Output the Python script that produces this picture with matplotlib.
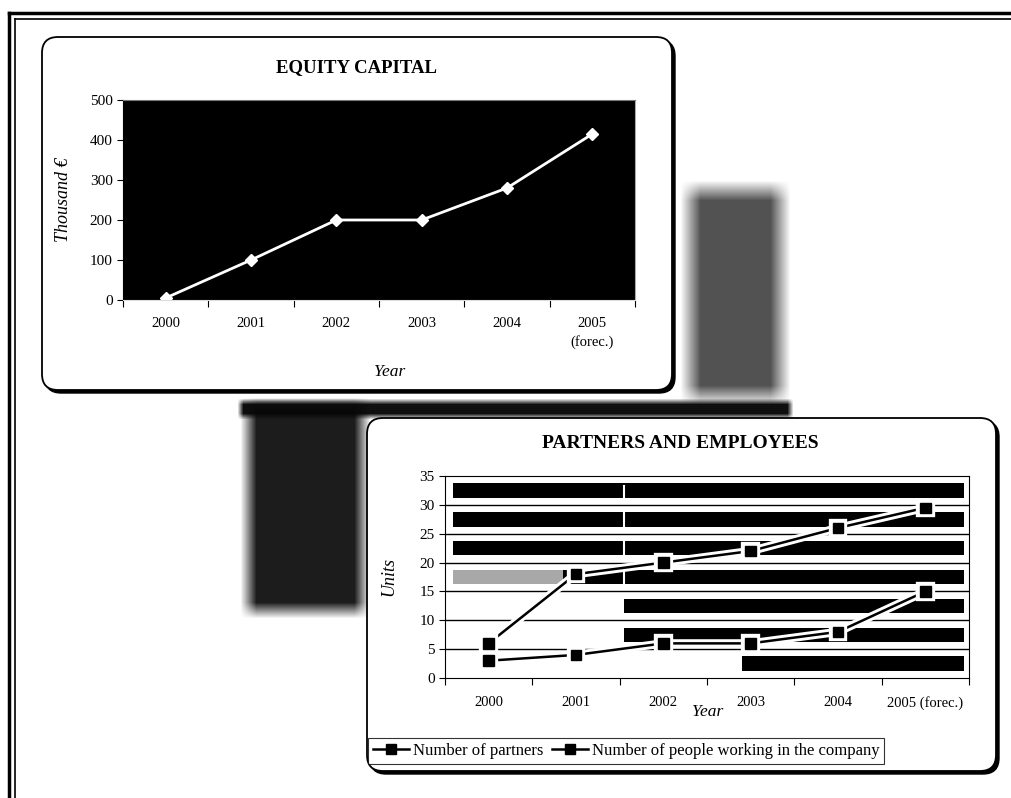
import numpy as np
import matplotlib
matplotlib.use("Agg")
import matplotlib.pyplot as plt
import matplotlib.patheffects as pe
from matplotlib.patches import FancyBboxPatch

plt.rcParams['font.family'] = ['Liberation Serif', 'DejaVu Serif']

# datos
anios = ['2000', '2001', '2002', '2003', '2004', '2005\n(forec.)']
anios_b = ['2000', '2001', '2002', '2003', '2004', '2005 (forec.)']
capital = [5, 100, 200, 200, 280, 415]          # miles de euros
socios = [3, 4, 6, 6, 8, 15]
personas = [6, 18, 20, 22, 26, 29.5]

W, H = 1012, 798
fig = plt.figure(figsize=(W / 100, H / 100), dpi=100)

# capa de fondo en coordenadas de pixel
bg = fig.add_axes([0, 0, 1, 1])
bg.axis('off')


def ejes(x0, y0, x1, y1):
    return fig.add_axes([x0 / W, 1 - y1 / H, (x1 - x0) / W, (y1 - y0) / H])


def mancha(x0, y0, x1, y1, suave, alfa=0.9):
    xs = np.arange(x0 - suave, x1 + suave)
    ys = np.arange(y0 - suave, y1 + suave)
    fx = np.clip(np.minimum(xs - (x0 - suave), (x1 + suave) - xs) / (2 * suave), 0, 1)
    fy = np.clip(np.minimum(ys - (y0 - suave), (y1 + suave) - ys) / (2 * suave), 0, 1)
    img = np.zeros((len(ys), len(xs), 4))
    img[..., :3] = 0.03
    img[..., 3] = np.outer(fy, fx) * alfa
    bg.imshow(img, extent=(x0 - suave, x1 + suave, y1 + suave, y0 - suave),
              interpolation='bilinear', aspect='auto', zorder=1)


def panel(x0, y0, x1, y1):
    bg.add_patch(FancyBboxPatch((x0 + 3, y0 + 3), x1 - x0, y1 - y0,
                                boxstyle='round,pad=0,rounding_size=16',
                                fc='black', ec='black', lw=1, zorder=2))
    bg.add_patch(FancyBboxPatch((x0, y0), x1 - x0, y1 - y0,
                                boxstyle='round,pad=0,rounding_size=16',
                                fc='white', ec='black', lw=1.3, zorder=3))


# manchas de la fotocopia
mancha(248, 405, 362, 610, 8, 0.92)
mancha(240, 401, 790, 416, 3, 0.97)
mancha(690, 190, 780, 395, 10, 0.7)

# marco exterior
bg.plot([9, W], [13, 13], color='black', lw=2.5, zorder=4)
bg.plot([15, W], [19, 19], color='black', lw=1.2, zorder=4)
bg.plot([9, 9], [13, H], color='black', lw=2.5, zorder=4)
bg.plot([15, 15], [19, H], color='black', lw=1.2, zorder=4)

panel(42, 37, 672, 390)
panel(367, 418, 996, 771)

bg.set_xlim(0, W)
bg.set_ylim(H, 0)

bg.text(357, 68, 'EQUITY CAPITAL', ha='center', va='center', fontsize=13.5,
        fontweight='bold', zorder=5)
bg.text(680, 444, 'PARTNERS AND EMPLOYEES', ha='center', va='center', fontsize=14,
        fontweight='bold', zorder=5)

x = np.arange(len(anios))

# Grafico 1: capital
ax1 = ejes(123, 100, 635, 300)
ax1.set_facecolor('black')
ax1.plot(x, capital, color='white', lw=2, marker='D', ms=6.5, mfc='white', mec='white')
ax1.set_xlim(-0.5, 5.5)
ax1.set_ylim(0, 500)
ax1.set_yticks(range(0, 501, 100))
ax1.set_xticks(np.arange(-0.5, 6, 1))
ax1.set_xticklabels([])
ax1.set_xticks(x, minor=True)
ax1.set_xticklabels(anios, minor=True, fontsize=10.5, linespacing=1.5)
ax1.tick_params(axis='x', which='minor', length=0, pad=12)
ax1.tick_params(axis='x', which='major', length=5, direction='out')
ax1.tick_params(axis='y', length=4, direction='out', labelsize=11)
ax1.spines['bottom'].set_color('#dddddd')
ax1.spines['right'].set_color('#aaaaaa')
ax1.spines['top'].set_color('#777777')
ax1.set_ylabel('Thousand €', fontsize=13, style='italic')
ax1.yaxis.set_label_coords(-0.10, 0.5)
ax1.set_xlabel('Year', fontsize=12.5, style='italic')
ax1.xaxis.set_label_coords(0.52, -0.32)

# Grafico 2: socios y empleados
ax2 = ejes(445, 476, 969, 678)
ax2.set_facecolor('white')
inicio = [0.567, 0.342, 0.342, 0.225, 0.015, 0.015, 0.015]
for k, xi in enumerate(inicio):
    ax2.axhspan(k * 5 + 1.25, k * 5 + 3.75, xmin=xi, xmax=0.99, color='black', lw=0, zorder=0)
ax2.axhspan(16.25, 18.75, xmin=0.015, xmax=0.225, color='#a8a8a8', lw=0, zorder=0)
ax2.axvline(1.55, ymin=0.45, ymax=0.95, color='white', lw=1.5, zorder=0.5)
for g in range(5, 35, 5):
    ax2.axhline(g, color='black', lw=1, zorder=1)

halo = [pe.Stroke(linewidth=6, foreground='white'), pe.Normal()]
ax2.plot(x, personas, color='black', lw=1.8, marker='s', ms=7.5, mfc='black', mec='black',
         path_effects=halo, zorder=3, label='Number of people working in the company')
ax2.plot(x, socios, color='black', lw=1.8, marker='s', ms=7.5, mfc='black', mec='black',
         path_effects=halo, zorder=3, label='Number of partners')
ax2.set_xlim(-0.5, 5.5)
ax2.set_ylim(0, 35)
ax2.set_yticks(range(0, 36, 5))
ax2.set_xticks(np.arange(-0.5, 6, 1))
ax2.set_xticklabels([])
ax2.set_xticks(x, minor=True)
ax2.set_xticklabels(anios_b, minor=True, fontsize=10.5)
ax2.tick_params(axis='x', which='minor', length=0, pad=13)
ax2.tick_params(axis='x', which='major', length=5, direction='out')
ax2.tick_params(axis='y', length=4, direction='out', labelsize=11)
ax2.set_ylabel('Units', fontsize=13, style='italic')
ax2.yaxis.set_label_coords(-0.09, 0.5)
ax2.set_xlabel('Year', fontsize=12.5, style='italic')
ax2.xaxis.set_label_coords(0.502, -0.13)

h, l = ax2.get_legend_handles_labels()
leg = fig.legend(h[::-1], l[::-1], loc='center', ncol=2, fontsize=12,
                 bbox_to_anchor=(626 / W, 1 - 751 / H), frameon=True, fancybox=False,
                 edgecolor='black', handlelength=2.2, columnspacing=0.5,
                 handletextpad=0.2, borderpad=0.3)
leg.get_frame().set_linewidth(0.8)
for line in leg.get_lines():
    line.set_path_effects([])

fig.savefig('out.png', dpi=100)
